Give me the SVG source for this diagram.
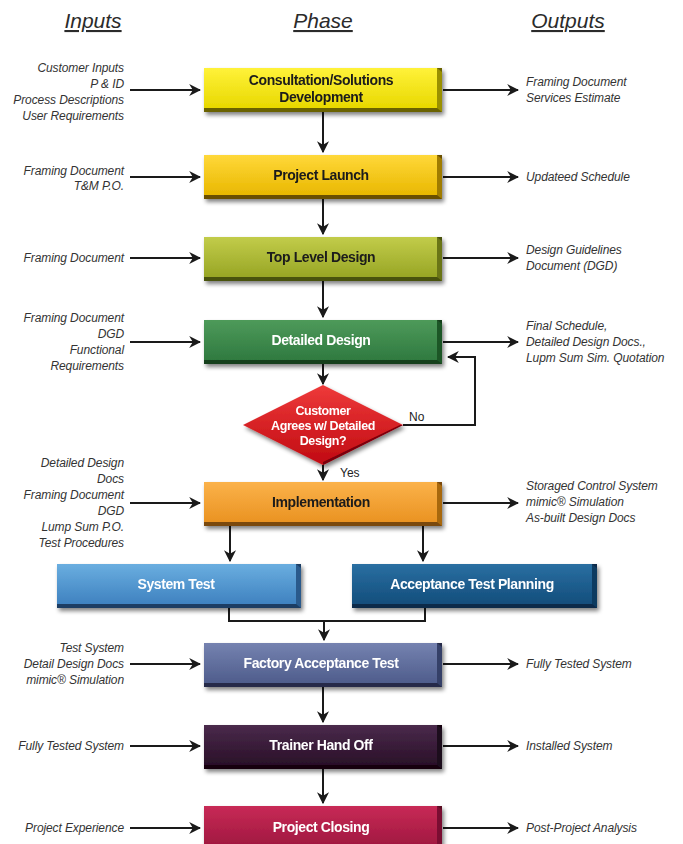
<svg xmlns="http://www.w3.org/2000/svg" width="683" height="844" viewBox="0 0 683 844">
<defs>
<style>
.hdr{font-family:"Liberation Sans",Arial,sans-serif;font-style:italic;font-size:21px;fill:#2b2b2b;text-decoration:underline;text-anchor:middle}
.in{font-family:"Liberation Sans",Arial,sans-serif;font-style:italic;font-size:12px;fill:#333;text-anchor:end;letter-spacing:-0.1px}
.out{font-family:"Liberation Sans",Arial,sans-serif;font-style:italic;font-size:12px;fill:#333;text-anchor:start;letter-spacing:-0.1px}
.lbl{font-family:"Liberation Sans",Arial,sans-serif;font-weight:bold;font-size:14px;text-anchor:middle;letter-spacing:-0.4px}
.dk{fill:#1a1a1a}
.wt{fill:#ffffff}
.small{font-family:"Liberation Sans",Arial,sans-serif;font-size:12px;fill:#222}
.ln{fill:none;stroke:#1a1a1a;stroke-width:2}
.arr{fill:none;stroke:#1a1a1a;stroke-width:2;marker-end:url(#ah)}
</style>
<marker id="ah" viewBox="0 0 10 10" refX="9" refY="5" markerWidth="6" markerHeight="6" orient="auto" markerUnits="strokeWidth">
<path d="M0,0 L10,5 L0,10 L3,5 z" fill="#1a1a1a"/>
</marker>
<filter id="sh" x="-10%" y="-20%" width="125%" height="150%">
<feGaussianBlur in="SourceAlpha" stdDeviation="2"/>
<feOffset dx="2" dy="3" result="b"/>
<feComponentTransfer><feFuncA type="linear" slope="0.5"/></feComponentTransfer>
<feMerge><feMergeNode/><feMergeNode in="SourceGraphic"/></feMerge>
</filter>
<linearGradient id="gY" x1="0" y1="0" x2="0" y2="1"><stop offset="0" stop-color="#fff23a"/><stop offset="1" stop-color="#e8d800"/></linearGradient>
<linearGradient id="gG" x1="0" y1="0" x2="0" y2="1"><stop offset="0" stop-color="#ffd83a"/><stop offset="1" stop-color="#e9b800"/></linearGradient>
<linearGradient id="gO" x1="0" y1="0" x2="0" y2="1"><stop offset="0" stop-color="#c2cc4a"/><stop offset="1" stop-color="#98a625"/></linearGradient>
<linearGradient id="gD" x1="0" y1="0" x2="0" y2="1"><stop offset="0" stop-color="#4e9a5a"/><stop offset="1" stop-color="#2f7a40"/></linearGradient>
<linearGradient id="gR" x1="0" y1="0" x2="0" y2="1"><stop offset="0" stop-color="#ee3a3a"/><stop offset="1" stop-color="#c00a12"/></linearGradient>
<linearGradient id="gI" x1="0" y1="0" x2="0" y2="1"><stop offset="0" stop-color="#fbb24a"/><stop offset="1" stop-color="#ea9322"/></linearGradient>
<linearGradient id="gS" x1="0" y1="0" x2="0" y2="1"><stop offset="0" stop-color="#6aaee0"/><stop offset="1" stop-color="#3f82c0"/></linearGradient>
<linearGradient id="gA" x1="0" y1="0" x2="0" y2="1"><stop offset="0" stop-color="#2a6fa2"/><stop offset="1" stop-color="#134e7c"/></linearGradient>
<linearGradient id="gF" x1="0" y1="0" x2="0" y2="1"><stop offset="0" stop-color="#7582b0"/><stop offset="1" stop-color="#4f5d8c"/></linearGradient>
<linearGradient id="gT" x1="0" y1="0" x2="0" y2="1"><stop offset="0" stop-color="#4a2a4c"/><stop offset="1" stop-color="#2a1028"/></linearGradient>
<linearGradient id="gC" x1="0" y1="0" x2="0" y2="1"><stop offset="0" stop-color="#c82a56"/><stop offset="1" stop-color="#a01840"/></linearGradient>
</defs>
<rect width="683" height="844" fill="#ffffff"/>

<g id="headers">
<text class="hdr" x="93" y="28">Inputs</text>
<text class="hdr" x="323" y="28">Phase</text>
<text class="hdr" x="568" y="28">Outputs</text>
</g>

<g id="connectors">
<path class="arr" d="M130,90 H200"/>
<path class="arr" d="M443,90 H518"/>
<path class="arr" d="M323,112 V152"/>
<path class="arr" d="M130,177 H200"/>
<path class="arr" d="M443,177 H518"/>
<path class="arr" d="M323,199 V234"/>
<path class="arr" d="M130,258 H200"/>
<path class="arr" d="M443,258 H518"/>
<path class="arr" d="M323,281 V317"/>
<path class="arr" d="M130,342 H200"/>
<path class="arr" d="M443,342 H518"/>
<path class="arr" d="M323,364 V384"/>
<path class="arr" d="M403,425 H475 V357 H448"/>
<path class="arr" d="M323,465 V480"/>
<path class="arr" d="M130,503 H200"/>
<path class="arr" d="M443,503 H518"/>
<path class="arr" d="M230,526 V561"/>
<path class="arr" d="M423,526 V561"/>
<path class="ln" d="M229,608 V621 H425 V608"/>
<path class="arr" d="M324,621 V640"/>
<path class="arr" d="M130,664 H200"/>
<path class="arr" d="M443,664 H518"/>
<path class="arr" d="M323,687 V722"/>
<path class="arr" d="M130,746 H200"/>
<path class="arr" d="M443,746 H518"/>
<path class="arr" d="M323,769 V803"/>
<path class="arr" d="M130,828 H200"/>
<path class="arr" d="M443,828 H518"/>
<text class="small" x="409" y="421">No</text>
<text class="small" x="340" y="477">Yes</text>
</g>

<g id="consultation" filter="url(#sh)">
<rect x="204" y="68" width="238" height="44" fill="#6a6200"/>
<rect x="204" y="68" width="233" height="40" fill="url(#gY)"/>
<polygon points="437,68 442,72 442,112 437,108" fill="#9a9000"/>
<text class="lbl dk" x="321" y="85">Consultation/Solutions</text>
<text class="lbl dk" x="321" y="102">Development</text>
</g>

<g id="launch" filter="url(#sh)">
<rect x="204" y="155" width="238" height="44" fill="#6a5000"/>
<rect x="204" y="155" width="233" height="40" fill="url(#gG)"/>
<polygon points="437,155 442,159 442,199 437,195" fill="#a07c00"/>
<text class="lbl dk" x="321" y="180">Project Launch</text>
</g>

<g id="toplevel" filter="url(#sh)">
<rect x="204" y="237" width="238" height="44" fill="#4a5210"/>
<rect x="204" y="237" width="233" height="40" fill="url(#gO)"/>
<polygon points="437,237 442,241 442,281 437,277" fill="#6a7418"/>
<text class="lbl dk" x="321" y="262">Top Level Design</text>
</g>

<g id="detailed" filter="url(#sh)">
<rect x="204" y="320" width="238" height="44" fill="#16401e"/>
<rect x="204" y="320" width="233" height="40" fill="url(#gD)"/>
<polygon points="437,320 442,324 442,364 437,360" fill="#1e5628"/>
<text class="lbl wt" x="321" y="345">Detailed Design</text>
</g>

<g id="decision" filter="url(#sh)">
<polygon points="243,425 323,385 403,425 323,465" fill="url(#gR)"/>
<polygon points="323,465 403,425 400,425 323,462" fill="#7a0008"/>
<text class="lbl wt" x="323" y="415" style="font-size:12.5px">Customer</text>
<text class="lbl wt" x="323" y="430" style="font-size:12.5px">Agrees w/ Detailed</text>
<text class="lbl wt" x="323" y="445" style="font-size:12.5px">Design?</text>
</g>

<g id="implementation" filter="url(#sh)">
<rect x="204" y="482" width="238" height="44" fill="#7a4a08"/>
<rect x="204" y="482" width="233" height="40" fill="url(#gI)"/>
<polygon points="437,482 442,486 442,526 437,522" fill="#a86810"/>
<text class="lbl dk" x="321" y="507">Implementation</text>
</g>

<g id="systemtest" filter="url(#sh)">
<rect x="57" y="564" width="244" height="44" fill="#1a3e64"/>
<rect x="57" y="564" width="239" height="40" fill="url(#gS)"/>
<polygon points="296,564 301,568 301,608 296,604" fill="#2a5a8c"/>
<text class="lbl wt" x="176" y="589">System Test</text>
</g>

<g id="acceptance" filter="url(#sh)">
<rect x="352" y="564" width="245" height="44" fill="#0a2a48"/>
<rect x="352" y="564" width="240" height="40" fill="url(#gA)"/>
<polygon points="592,564 597,568 597,608 592,604" fill="#0e3a60"/>
<text class="lbl wt" x="472" y="589">Acceptance Test Planning</text>
</g>

<g id="factory" filter="url(#sh)">
<rect x="204" y="643" width="238" height="44" fill="#252c48"/>
<rect x="204" y="643" width="233" height="40" fill="url(#gF)"/>
<polygon points="437,643 442,647 442,687 437,683" fill="#353f68"/>
<text class="lbl wt" x="321" y="668">Factory Acceptance Test</text>
</g>

<g id="trainer" filter="url(#sh)">
<rect x="204" y="725" width="238" height="44" fill="#120410"/>
<rect x="204" y="725" width="233" height="40" fill="url(#gT)"/>
<polygon points="437,725 442,729 442,769 437,765" fill="#1e0a1c"/>
<text class="lbl wt" x="321" y="750">Trainer Hand Off</text>
</g>

<g id="closing" filter="url(#sh)">
<rect x="204" y="806" width="238" height="44" fill="#5a0a24"/>
<rect x="204" y="806" width="233" height="40" fill="url(#gC)"/>
<polygon points="437,806 442,810 442,850 437,846" fill="#7a1030"/>
<text class="lbl wt" x="321" y="832">Project Closing</text>
</g>

<g id="inputs">
<text class="in" x="124" y="72">Customer Inputs</text>
<text class="in" x="124" y="88">P &amp; ID</text>
<text class="in" x="124" y="104">Process Descriptions</text>
<text class="in" x="124" y="120">User Requirements</text>
<text class="in" x="124" y="175">Framing Document</text>
<text class="in" x="124" y="190">T&amp;M P.O.</text>
<text class="in" x="124" y="262">Framing Document</text>
<text class="in" x="124" y="322">Framing  Document</text>
<text class="in" x="124" y="338">DGD</text>
<text class="in" x="124" y="354">Functional</text>
<text class="in" x="124" y="370">Requirements</text>
<text class="in" x="124" y="467">Detailed Design</text>
<text class="in" x="124" y="483">Docs</text>
<text class="in" x="124" y="499">Framing Document</text>
<text class="in" x="124" y="515">DGD</text>
<text class="in" x="124" y="531">Lump Sum P.O.</text>
<text class="in" x="124" y="547">Test Procedures</text>
<text class="in" x="124" y="652">Test System</text>
<text class="in" x="124" y="668">Detail Design Docs</text>
<text class="in" x="124" y="684">mimic® Simulation</text>
<text class="in" x="124" y="750">Fully Tested System</text>
<text class="in" x="124" y="832">Project Experience</text>
</g>

<g id="outputs">
<text class="out" x="526" y="86">Framing Document</text>
<text class="out" x="526" y="102">Services Estimate</text>
<text class="out" x="526" y="181">Updateed Schedule</text>
<text class="out" x="526" y="254">Design Guidelines</text>
<text class="out" x="526" y="270">Document (DGD)</text>
<text class="out" x="526" y="330">Final Schedule,</text>
<text class="out" x="526" y="346">Detailed Design Docs.,</text>
<text class="out" x="526" y="362">Lupm Sum Sim. Quotation</text>
<text class="out" x="526" y="490">Storaged Control System</text>
<text class="out" x="526" y="506">mimic® Simulation</text>
<text class="out" x="526" y="522">As-built Design Docs</text>
<text class="out" x="526" y="668">Fully Tested System</text>
<text class="out" x="526" y="750">Installed System</text>
<text class="out" x="526" y="832">Post-Project Analysis</text>
</g>
</svg>
